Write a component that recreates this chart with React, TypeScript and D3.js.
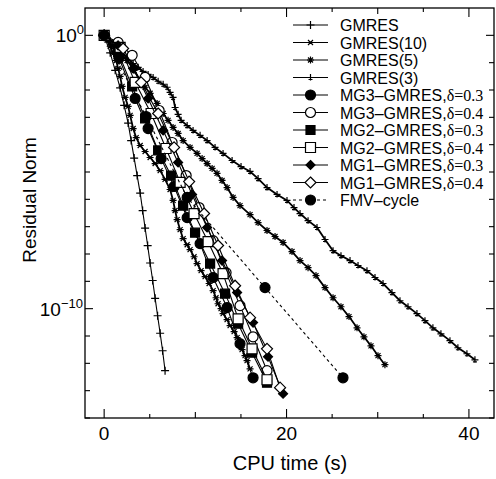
import React from 'react'
import * as d3 from 'd3'

// CPU time (s) and log10 of the residual norm
const gmresTime = [0, 0.66, 1.21, 1.75, 2.19, 2.63, 2.96, 3.29, 3.62, 3.95, 4.22, 4.49, 4.77, 5.04, 5.32, 5.59, 5.86, 6.14, 6.41, 6.68]
const gmresLog = [0, -0.64, -1.28, -1.92, -2.56, -3.21, -3.85, -4.49, -5.13, -5.77, -6.41, -7.05, -7.69, -8.33, -8.97, -9.62, -10.26, -10.9, -11.54, -12.27]

const gmres10Time = [0, 0.33, 0.66, 0.99, 1.32, 1.53, 1.75, 1.97, 2.3, 2.63, 2.85, 3.18, 3.51, 3.95, 4.49, 5.04, 5.59, 6.14, 6.68, 7.23, 7.56, 7.78, 8.0, 8.33, 8.66, 9.1, 9.42, 9.86, 10.19, 10.63, 11.07, 11.51, 11.95, 12.27, 12.49, 12.82, 13.04, 13.48, 13.81, 14.25, 14.58, 14.9, 15.12, 15.45, 15.67, 16.0]
const gmres10Log = [0, -0.18, -0.4, -0.66, -0.92, -1.21, -1.5, -1.87, -2.27, -2.6, -2.93, -3.41, -3.74, -4.03, -4.25, -4.47, -4.69, -4.95, -5.27, -5.64, -6.04, -6.41, -6.74, -7.11, -7.44, -7.66, -7.84, -8.1, -8.35, -8.61, -8.83, -9.08, -9.34, -9.6, -9.82, -10.0, -10.18, -10.4, -10.62, -10.84, -11.06, -11.28, -11.5, -11.72, -11.9, -12.2]

const gmres5Time = [0, 0.88, 1.75, 2.52, 3.29, 3.95, 4.49, 5.04, 5.81, 6.47, 7.01, 7.56, 8.11, 8.66, 9.42, 10.19, 10.74, 11.29, 11.84, 12.38, 12.93, 13.48, 14.14, 14.9, 16.0, 16.88, 17.86, 18.74, 19.62, 20.6, 21.48, 22.36, 23.23, 24.22, 25.1, 25.97, 26.85, 27.73, 28.49, 29.26, 30.03, 30.79]
const gmres5Log = [0, -0.37, -0.66, -0.92, -1.28, -1.65, -1.9, -2.12, -2.49, -2.86, -3.11, -3.37, -3.59, -3.85, -4.1, -4.32, -4.51, -4.69, -4.87, -5.05, -5.31, -5.57, -5.93, -6.23, -6.56, -6.85, -7.14, -7.36, -7.58, -7.91, -8.24, -8.5, -8.79, -9.23, -9.6, -9.93, -10.29, -10.7, -11.03, -11.36, -11.72, -12.05]

const gmres3Time = [0, 0.66, 1.32, 1.97, 2.52, 3.18, 3.73, 4.27, 4.82, 5.37, 5.92, 6.47, 6.9, 7.23, 7.56, 7.78, 8.11, 8.44, 9.1, 9.75, 10.52, 11.29, 12.16, 13.04, 14.03, 15.01, 16.0, 16.88, 17.86, 18.96, 20.05, 20.82, 21.48, 22.36, 23.34, 24.22, 25.1, 25.97, 26.96, 27.84, 28.82, 29.7, 30.58, 31.56, 32.44, 33.32, 34.3, 35.18, 36.05, 36.93, 37.92, 38.79, 39.78, 40.66]
const gmres3Log = [0, -0.18, -0.37, -0.62, -0.81, -1.03, -1.17, -1.32, -1.43, -1.54, -1.68, -1.79, -1.9, -2.09, -2.27, -2.64, -2.89, -3.11, -3.3, -3.48, -3.66, -3.85, -4.1, -4.32, -4.58, -4.8, -4.98, -5.24, -5.57, -5.82, -6.04, -6.3, -6.52, -6.78, -7.03, -7.47, -7.88, -8.06, -8.24, -8.42, -8.61, -8.86, -9.08, -9.41, -9.71, -9.93, -10.18, -10.44, -10.7, -10.92, -11.17, -11.43, -11.65, -11.87]

const mg3d3Time = [0, 1.64, 3.4, 4.82, 6.25, 7.67, 9.1, 10.52, 11.95, 13.48, 14.9, 16.33]
const mg3d3Log = [0, -0.84, -2.31, -3.41, -4.51, -5.53, -6.67, -7.62, -8.86, -9.96, -11.28, -12.53]

const mg3d4Time = [0, 1.53, 3.07, 4.49, 6.03, 7.45, 8.99, 10.41, 11.95, 13.37, 14.9, 16.33, 17.86]
const mg3d4Log = [0, -0.26, -0.73, -1.54, -2.75, -3.92, -5.13, -6.3, -7.51, -8.68, -9.89, -11.03, -12.27]

const mg2d3Time = [0, 1.53, 3.07, 4.49, 5.92, 7.34, 8.66, 9.97, 11.62, 13.26, 14.69, 16.22, 17.86]
const mg2d3Log = [0, -0.62, -1.87, -3.04, -4.21, -5.13, -6.23, -7.22, -8.35, -9.45, -10.55, -11.61, -12.71]

const mg2d4Time = [0, 1.75, 3.4, 5.15, 6.79, 8.33, 9.86, 11.4, 13.04, 14.69, 16.22, 17.86]
const mg2d4Log = [0, -0.44, -1.72, -2.86, -4.14, -5.38, -6.52, -7.55, -8.72, -10.37, -11.47, -12.6]

const mg1d3Time = [0, 1.53, 3.18, 4.82, 6.47, 8.11, 9.64, 11.29, 12.93, 14.58, 16.33, 17.97, 19.62]
const mg1d3Log = [0, -0.37, -1.21, -2.31, -3.48, -4.65, -5.82, -7.03, -8.24, -9.41, -10.51, -11.76, -13.11]

const mg1d4Time = [0, 2.08, 4.05, 5.92, 7.67, 9.32, 10.96, 12.49, 14.36, 16.0, 17.86, 19.29]
const mg1d4Log = [0, -0.48, -1.72, -2.86, -4.1, -5.35, -6.52, -7.69, -9.16, -10.33, -11.47, -12.89]

const fmvTime = [0, 4.6, 9.1, 17.64, 26.19]
const fmvLog = [0, -2.97, -5.93, -9.23, -12.53]

const seriesNames = [
  'GMRES', 'GMRES(10)', 'GMRES(5)', 'GMRES(3)',
  'MG3–GMRES,δ=0.3', 'MG3–GMRES,δ=0.4', 'MG2–GMRES,δ=0.3', 'MG2–GMRES,δ=0.4',
  'MG1–GMRES,δ=0.3', 'MG1–GMRES,δ=0.4', 'FMV–cycle',
]
const xTicks = [0, 5, 10, 15, 20, 25, 30, 35, 40]
const xTickLabels = ['0', '20', '40']
const yTickExponents = d3.range(-14, 1)
const yTickLabels = [0, -10]

type Marker = 'plus' | 'asterisk' | 'star' | 'tri' | 'circle' | 'square' | 'diamond'

const W = 496
const H = 479
const plot = { left: 85, right: 494, top: 8, bottom: 418 }
const sans = "'Liberation Sans', Arial, Helvetica, sans-serif"
const serif = "'Liberation Serif', 'Times New Roman', serif"

const series = [
  { t: gmresTime, e: gmresLog, marker: 'plus', filled: false, dashed: false, dense: false },
  { t: gmres10Time, e: gmres10Log, marker: 'asterisk', filled: false, dashed: false, dense: true },
  { t: gmres5Time, e: gmres5Log, marker: 'star', filled: true, dashed: false, dense: true },
  { t: gmres3Time, e: gmres3Log, marker: 'tri', filled: false, dashed: false, dense: true },
  { t: mg3d3Time, e: mg3d3Log, marker: 'circle', filled: true, dashed: false, dense: false },
  { t: mg3d4Time, e: mg3d4Log, marker: 'circle', filled: false, dashed: false, dense: false },
  { t: mg2d3Time, e: mg2d3Log, marker: 'square', filled: true, dashed: false, dense: false },
  { t: mg2d4Time, e: mg2d4Log, marker: 'square', filled: false, dashed: false, dense: false },
  { t: mg1d3Time, e: mg1d3Log, marker: 'diamond', filled: true, dashed: false, dense: false },
  { t: mg1d4Time, e: mg1d4Log, marker: 'diamond', filled: false, dashed: false, dense: false },
  { t: fmvTime, e: fmvLog, marker: 'circle', filled: true, dashed: true, dense: false },
].map((s, i) => ({ ...s, name: seriesNames[i], marker: s.marker as Marker }))

function markerPath (m: Marker, filled: boolean): string {
  switch (m) {
    case 'plus': return 'M-4,0H4M0,-4V4'
    case 'asterisk': return 'M-3.5,0H3.5M-2.5,-2.5L2.5,2.5M-2.5,2.5L2.5,-2.5'
    case 'star': return 'M-3.5,0H3.5M0,-3.5V3.5M-2.5,-2.5L2.5,2.5M-2.5,2.5L2.5,-2.5'
    case 'tri': return 'M-3.5,0H3.5M0,-3.5V3M-2,2H2'
    case 'circle': return d3.symbol(d3.symbolCircle, Math.PI * 25)() as string
    case 'square': return filled ? 'M-4.5,-4.5H4.5V4.5H-4.5Z' : 'M-5,-5H5V5H-5Z'
    case 'diamond': return filled ? 'M0,-4.5L4.5,0L0,4.5L-4.5,0Z' : 'M0,-5.5L5.5,0L0,5.5L-5.5,0Z'
  }
  return ''
}

const isShape = (m: Marker) => m === 'circle' || m === 'square' || m === 'diamond'

function MarkerMark ({ m, filled, x, y }: { m: Marker, filled: boolean, x: number, y: number }) {
  const d = markerPath(m, filled)
  if (isShape(m)) {
    return <path d={d} transform={`translate(${x},${y})`} fill={filled ? '#000' : '#fff'} stroke="#000" strokeWidth={1.2} />
  }
  return <path d={d} transform={`translate(${x},${y})`} fill="none" stroke="#000" strokeWidth={1.2} />
}

export default function App () {
  const x = d3.scaleLinear().domain([-2.1, 42.75]).range([plot.left, plot.right])
  const y = d3.scaleLog().domain([1e-14, 10]).range([plot.bottom, plot.top])

  const line = d3.line<[number, number]>()
    .x(d => x(d[0]))
    .y(d => y(Math.pow(10, d[1])))

  const legendY = (i: number) => 25 + 17.5 * i

  return (
    <svg width={W} height={H} style={{ display: 'block', position: 'absolute', left: 0, top: 0 }}>
      <rect width={W} height={H} fill="#fff" />
      <defs>
        <clipPath id="plotClip">
          <rect x={plot.left} y={plot.top} width={plot.right - plot.left} height={plot.bottom - plot.top} />
        </clipPath>
      </defs>

      <g clipPath="url(#plotClip)">
        {series.map((s, i) => {
          const pts = s.t.map((t, k) => [t, s.e[k]] as [number, number])
          return (
            <g key={i}>
              <path d={line(pts) as string} fill="none" stroke="#000" strokeWidth={s.dense ? 1.8 : 1.1}
                strokeDasharray={s.dashed ? '3,3' : undefined} />
              {pts.map((p, k) => (
                <MarkerMark key={k} m={s.marker} filled={s.filled} x={x(p[0])} y={y(Math.pow(10, p[1]))} />
              ))}
            </g>
          )
        })}
      </g>

      {/* frame */}
      <rect x={plot.left} y={plot.top} width={plot.right - plot.left} height={plot.bottom - plot.top}
        fill="none" stroke="#000" strokeWidth={1.3} />

      {/* x ticks, bottom and top */}
      {xTicks.map(t => {
        const len = t % 20 === 0 ? 9 : t % 10 === 0 ? 6 : 4
        return (
          <g key={t}>
            <line x1={x(t)} x2={x(t)} y1={plot.bottom} y2={plot.bottom - len} stroke="#000" strokeWidth={1.1} />
            <line x1={x(t)} x2={x(t)} y1={plot.top} y2={plot.top + len} stroke="#000" strokeWidth={1.1} />
          </g>
        )
      })}
      {xTickLabels.map(l => (
        <text key={l} x={x(+l)} y={440} textAnchor="middle" fontFamily={sans} fontSize={19}>{l}</text>
      ))}

      {/* y ticks, left and right */}
      {yTickExponents.map(k => {
        const len = yTickLabels.includes(k) ? 8 : 5
        const yy = y(Math.pow(10, k))
        return (
          <g key={k}>
            <line x1={plot.left} x2={plot.left + len} y1={yy} y2={yy} stroke="#000" strokeWidth={1.1} />
            <line x1={plot.right} x2={plot.right - len} y1={yy} y2={yy} stroke="#000" strokeWidth={1.1} />
          </g>
        )
      })}
      {yTickLabels.map(k => (
        <text key={k} x={k === 0 ? 84 : 83} y={y(Math.pow(10, k)) + 7} textAnchor="end" fontFamily={sans} fontSize={19}>
          10<tspan dy={-8} fontSize={13}>{k === 0 ? '0' : '−10'}</tspan>
        </text>
      ))}

      {/* axis titles */}
      <text x={290} y={470} textAnchor="middle" fontFamily={sans} fontSize={20}>CPU time (s)</text>
      <text transform="translate(36,200) rotate(-90)" textAnchor="middle" fontFamily={sans} fontSize={19}>Residual Norm</text>

      {/* legend */}
      {series.map((s, i) => {
        const ly = legendY(i)
        const parts = s.name.split(',')
        return (
          <g key={s.name}>
            <line x1={293} x2={328} y1={ly} y2={ly} stroke="#000" strokeWidth={1.1}
              strokeDasharray={s.dashed ? '3,3' : undefined} />
            <MarkerMark m={s.marker} filled={s.filled} x={310.5} y={ly} />
            <text x={340} y={ly + 6} fontFamily={sans} fontSize={16}>
              {parts[0]}{parts.length > 1 ? ',' : ''}
              {parts.length > 1 && <tspan fontFamily={serif}>{parts[1]}</tspan>}
            </text>
          </g>
        )
      })}
    </svg>
  )
}
